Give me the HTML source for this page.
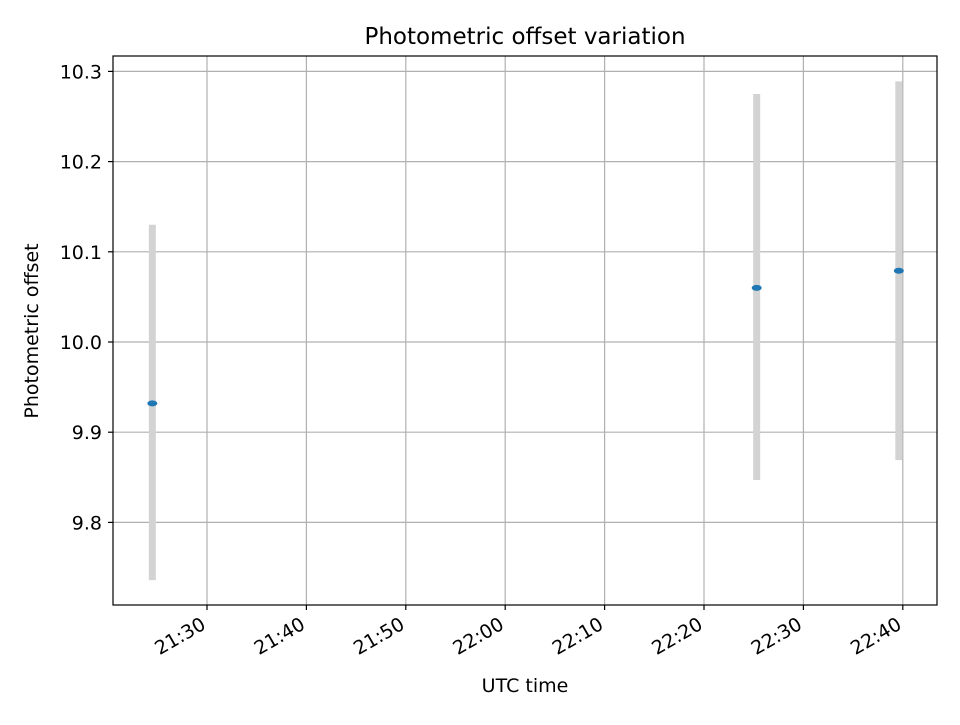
<!DOCTYPE html>
<html><head><meta charset="utf-8"><style>
body{margin:0;background:#fff;}
svg text{font-family:"DejaVu Sans","Liberation Sans",sans-serif;fill:#000;}
</style></head><body>
<svg id="chart" width="960" height="720" xmlns="http://www.w3.org/2000/svg">
<rect x="0" y="0" width="960" height="720" fill="#fff"/>
<text x="525" y="44" font-size="23" text-anchor="middle">Photometric offset variation</text>
<g id="grid"></g>
<g id="marks"></g>
<rect x="113" y="56" width="824" height="549" fill="none" stroke="#000" stroke-width="1.2"/>
<g id="ticks"></g>
<text x="525" y="692" font-size="19" text-anchor="middle">UTC time</text>
<text transform="translate(38,331) rotate(-90)" font-size="19" text-anchor="middle">Photometric offset</text>
</svg>
<script>
const times = ["21:24.5","22:25.3","22:39.6"];
const offsets = [9.932, 10.060, 10.079];
const errLow = [9.736, 9.847, 9.869];
const errHigh = [10.130, 10.275, 10.289];
const yTicks = [9.8, 9.9, 10.0, 10.1, 10.2, 10.3];
const xTickLabels = ["21:30","21:40","21:50","22:00","22:10","22:20","22:30","22:40"];

const NS="http://www.w3.org/2000/svg";
function toMin(s){const p=s.split(":");return (+p[0])*60+parseFloat(p[1]);}
function xScale(m){return 207+(m-toMin("21:30"))*9.94;}
function yScale(v){return 342-(v-10.0)*902;}
function mk(tag,attrs,parent){const e=document.createElementNS(NS,tag);for(const k in attrs)e.setAttribute(k,attrs[k]);parent.appendChild(e);return e;}
const grid=document.getElementById('grid'),ticks=document.getElementById('ticks'),marks=document.getElementById('marks');
yTicks.forEach(v=>{
  const y=yScale(v);
  const g=mk('line',{x1:113,x2:937,y1:y,y2:y,stroke:'#b0b0b0','stroke-width':1.2},grid);
  
  
  mk('line',{x1:108,x2:113,y1:y,y2:y,stroke:'#000','stroke-width':1.2},ticks);
  const t=mk('text',{x:102,y:y+7,'font-size':19,'text-anchor':'end'},ticks);
  t.textContent=v.toFixed(1);
  
  
});
xTickLabels.forEach(s=>{
  const x=xScale(toMin(s));
  const g=mk('line',{x1:x,x2:x,y1:56,y2:605,stroke:'#b0b0b0','stroke-width':1.2},grid);
  
  
  mk('line',{x1:x,x2:x,y1:605,y2:610,stroke:'#000','stroke-width':1.2},ticks);
  const t=mk('text',{x:0,y:0,'font-size':19,'text-anchor':'end',transform:`translate(${x},${628}) rotate(-30)`},ticks);
  t.textContent=s;
  
  
});
times.forEach((s,i)=>{
  const x=xScale(toMin(s));
  const b=mk('line',{x1:x,x2:x,y1:yScale(errHigh[i]),y2:yScale(errLow[i]),stroke:'#d3d3d3','stroke-width':7},marks);
  
  
  const p=mk('ellipse',{cx:x,cy:yScale(offsets[i]),rx:5,ry:3,fill:'#1f77b4'},marks);
  
  
});
</script>
</body></html>
